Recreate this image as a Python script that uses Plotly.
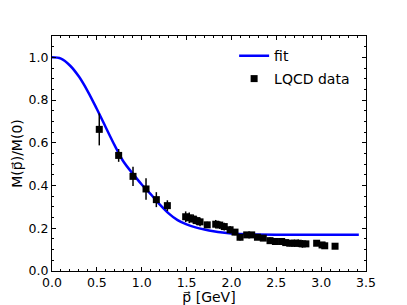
import plotly.graph_objects as go

# LQCD data
p_data = [0.527, 0.743, 0.903, 1.048, 1.163, 1.286, 1.49, 1.53, 1.575, 1.61, 1.65, 1.73,
          1.825, 1.87, 1.92, 1.985, 2.04, 2.096, 2.17, 2.226, 2.29, 2.355, 2.43, 2.49,
          2.56, 2.605, 2.65, 2.70, 2.745, 2.79, 2.83, 2.95, 3.01, 3.04, 3.155]
m_data = [0.663, 0.541, 0.443, 0.384, 0.334, 0.306, 0.254, 0.249, 0.243, 0.236, 0.23, 0.216,
          0.219, 0.215, 0.208, 0.193, 0.182, 0.158, 0.169, 0.169, 0.158, 0.154, 0.142, 0.138,
          0.138, 0.133, 0.13, 0.13, 0.13, 0.127, 0.127, 0.13, 0.122, 0.118, 0.116]
m_err = [0.075, 0.03, 0.045, 0.05, 0.035, 0.025, 0.025, 0.025, 0.022, 0.02, 0.02, 0.015,
         0.02, 0.018, 0.018, 0.018, 0.015, 0.015, 0.012, 0.012, 0.012, 0.012, 0.015, 0.012,
         0.012, 0.012, 0.015, 0.018, 0.018, 0.018, 0.015, 0.012, 0.012, 0.015, 0.012]

# fit curve
p_fit = [0.0, 0.1, 0.2, 0.3, 0.4, 0.5, 0.6, 0.7, 0.8, 0.9, 1.0, 1.1, 1.2, 1.3, 1.4, 1.5,
         1.6, 1.7, 1.8, 1.9, 2.0, 2.2, 2.5, 3.0, 3.42]
m_fit = [1.0, 0.994, 0.962, 0.91, 0.84, 0.758, 0.672, 0.587, 0.51, 0.456, 0.405, 0.36,
         0.312, 0.27, 0.238, 0.218, 0.204, 0.194, 0.186, 0.18, 0.176, 0.172, 0.17, 0.17, 0.17]

x_ticks = [0.0, 0.5, 1.0, 1.5, 2.0, 2.5, 3.0, 3.5]
y_ticks = [0.0, 0.2, 0.4, 0.6, 0.8, 1.0]

font = "DejaVu Sans"

fig = go.Figure()
fig.add_trace(go.Scatter(x=p_fit, y=m_fit, mode="lines", name="fit", legend="legend",
                         line=dict(color="#0000ff", width=2.5, shape="spline")))
fig.add_trace(go.Scatter(x=p_data, y=m_data, mode="markers", name="LQCD data",
                         legend="legend2",
                         marker=dict(symbol="square", color="black", size=7),
                         error_y=dict(type="data", array=m_err, color="black",
                                      thickness=1.5, width=0)))

axis_common = dict(showgrid=False, zeroline=False, showline=True, linecolor="black",
                   linewidth=1, mirror="allticks", ticks="inside", ticklen=4,
                   tickcolor="black", automargin=False,
                   tickfont=dict(family=font, size=12.5, color="black"))

legend_common = dict(xanchor="left", yanchor="middle", bgcolor="rgba(0,0,0,0)",
                     borderwidth=0, font=dict(family=font, size=14, color="black"),
                     itemwidth=30)

fig.update_layout(
    width=407, height=305,
    margin=dict(l=52, r=41, t=36, b=34, autoexpand=False),
    paper_bgcolor="white", plot_bgcolor="white",
    font=dict(family=font, size=12, color="black"),
    showlegend=True,
    legend=dict(x=0.58, y=0.914, **legend_common),
    legend2=dict(x=0.58, y=0.817, **legend_common),
    xaxis=dict(range=[0, 3.5], tickvals=x_ticks,
               ticktext=[f"{v:.1f}" for v in x_ticks],
               title=dict(text="p\u20d7 [GeV]", standoff=1,
                          font=dict(family=font, size=14)),
               minor=dict(dtick=0.1, ticks="inside", ticklen=2, tickcolor="black"),
               **axis_common),
    yaxis=dict(range=[0, 1.1], tickvals=y_ticks,
               ticktext=[f"{v:.1f}" for v in y_ticks],
               title=dict(text="M(p\u20d7)/M(0)", standoff=2,
                          font=dict(family=font, size=14)),
               minor=dict(dtick=0.05, ticks="inside", ticklen=2, tickcolor="black"),
               **axis_common),
)

fig.write_html("out.html", config={"displayModeBar": False},
               post_script="document.body.style.margin='0';document.body.style.padding='0';")
